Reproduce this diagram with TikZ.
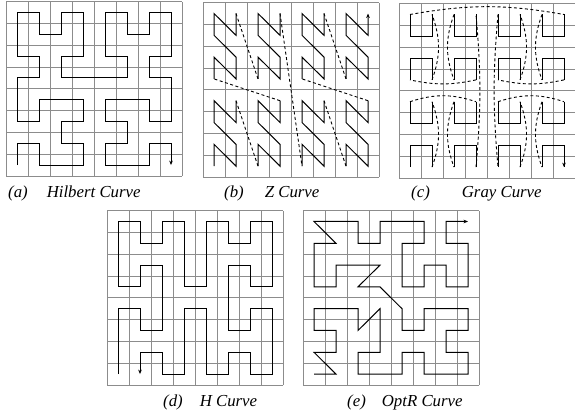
\documentclass[tikz,border=0pt]{standalone}
\usepackage{fontspec}
\setmainfont{Liberation Serif}
\usetikzlibrary{arrows.meta}
% 8x8 cell grid, cell centres at integer points
\newcommand\cellgrid{%
  \foreach \k in {0,...,8}{%
    \draw[gl] (\k-0.5,-0.5)--(\k-0.5,7.5);
    \draw[gl] (-0.5,\k-0.5)--(7.5,\k-0.5);}}
\begin{document}
\begin{tikzpicture}[x=1pt,y=1pt,
  >={Stealth[length=4.5pt,width=3.6pt]},
  gl/.style={draw=black!45,line width=0.8pt},
  cv/.style={line width=1pt,line join=miter},
  jp/.style={line width=0.9pt,dash pattern=on 3pt off 2.5pt},
  pan/.style={x=22pt,y=21.8pt},
  captxt/.style={font=\fontsize{16.8}{18}\selectfont\itshape,anchor=base west,inner sep=0pt}]
\useasboundingbox (0,0) rectangle (575,412);

% (a) Hilbert
\begin{scope}[shift={(17,246.9)},pan]
\cellgrid
\draw[cv,->] (0,0)--(0,1)--(1,1)--(1,0)--(3,0)--(3,1)--(2,1)--(2,2)--(3,2)--(3,3)--(1,3)--(1,2)--(0,2)
  --(0,4)--(1,4)--(1,5)--(0,5)--(0,7)--(1,7)--(1,6)--(2,6)--(2,7)--(3,7)--(3,5)--(2,5)--(2,4)--(5,4)
  --(5,5)--(4,5)--(4,7)--(5,7)--(5,6)--(6,6)--(6,7)--(7,7)--(7,5)--(6,5)--(6,4)--(7,4)--(7,2)--(6,2)
  --(6,3)--(4,3)--(4,2)--(5,2)--(5,1)--(4,1)--(4,0)--(6,0)--(6,1)--(7,1)--(7,0);
\end{scope}
\node[captxt] (capa) at (8,214.5) {(a)\hspace{19pt}Hilbert Curve};

% (b) Z
\begin{scope}[shift={(214,245.9)},pan]
\cellgrid
\foreach \sx/\sy in {0/0,2/0,0/4,2/4,4/0,6/0,4/4}
  \draw[cv] (\sx,\sy)--++(0,1)--++(1,-1)--++(0,1)--++(-1,1)--++(0,1)--++(1,-1)--++(0,1);
\draw[cv,->] (6,4)--++(0,1)--++(1,-1)--++(0,1)--++(-1,1)--++(0,1)--++(1,-1)--++(0,1);
\draw[jp] (1,3)--(2,0) (3,3)--(0,4) (1,7)--(2,4) (3,7)--(4,0)
  (5,3)--(6,0) (7,3)--(4,4) (5,7)--(6,4);
\end{scope}
\node[captxt] (capb) at (224,214.5) {(b)\hspace{21pt}Z Curve};

% (c) Gray
\begin{scope}[shift={(410,244.9)},pan]
\cellgrid
\foreach \bx in {0,2,4,6}{
  \foreach \by in {0,4}
    \draw[cv] (\bx,\by)--++(0,1)--++(1,0)--++(0,-1);
  \foreach \by in {2,6}
    \draw[cv] (\bx,\by+1)--++(0,-1)--++(1,0)--++(0,1);}
\draw[cv,->] (7,1)--(7,0);
\draw[jp] (1,0) to[bend right=20] (1,3)  (0,3) to[bend left=18] (3,3)
  (2,3) to[bend right=20] (2,0)  (3,0) to[bend right=5] (3,7)
  (2,7) to[bend right=20] (2,4)  (3,4) to[bend left=12] (0,4)
  (1,4) to[bend right=20] (1,7)  (0,7) to[bend left=10] (7,7)
  (6,7) to[bend right=20] (6,4)  (7,4) to[bend left=12] (4,4)
  (5,4) to[bend right=20] (5,7)  (4,7) to[bend right=5] (4,0)
  (5,0) to[bend right=20] (5,3)  (4,3) to[bend left=18] (7,3)
  (6,3) to[bend right=20] (6,0);
\end{scope}
\node[captxt] (capc) at (411,214.5) {(c)\hspace{32pt}Gray Curve};

% (d) H
\begin{scope}[shift={(118,37.9)},pan]
\cellgrid
\draw[cv,->] (0,0)--(0,3)--(1,3)--(1,2)--(2,2)--(2,5)--(1,5)--(1,4)--(0,4)--(0,7)--(1,7)--(1,6)--(2,6)
  --(2,7)--(3,7)--(3,4)--(4,4)--(4,7)--(5,7)--(5,6)--(6,6)--(6,7)--(7,7)--(7,4)--(6,4)--(6,5)--(5,5)
  --(5,2)--(6,2)--(6,3)--(7,3)--(7,0)--(6,0)--(6,1)--(5,1)--(5,0)--(4,0)--(4,3)--(3,3)--(3,0)--(2,0)
  --(2,1)--(1,1)--(1,0);
\end{scope}
\node[captxt] (capd) at (163,5.5) {(d)\hspace{17pt}H Curve};

% (e) OptR
\begin{scope}[shift={(314,37.9)},pan]
\cellgrid
\draw[cv,->] (0,0)--(1,0)--(0,1)--(1,1)--(1,2)--(0,2)--(0,3)--(2,3)--(2,2)--(3,3)--(3,1)--(2,1)--(2,0)
  --(4,0)--(4,1)--(5,1)--(5,0)--(7,0)--(7,1)--(6,1)--(6,2)--(7,2)--(7,3)--(5,3)--(5,2)--(4,2)--(4,3)
  --(3,4)--(2,4)--(3,5)--(1,5)--(1,4)--(0,4)--(0,6)--(1,6)--(0,7)--(2,7)--(2,6)--(3,6)--(3,7)--(5,7)
  --(5,6)--(4,6)--(4,4)--(5,4)--(5,5)--(6,5)--(6,4)--(7,4)--(7,6)--(6,6)--(6,7)--(7,7);
\end{scope}
\node[captxt] (cape) at (347,5.5) {(e)\hspace{16pt}OptR Curve};
\end{tikzpicture}
\end{document}
